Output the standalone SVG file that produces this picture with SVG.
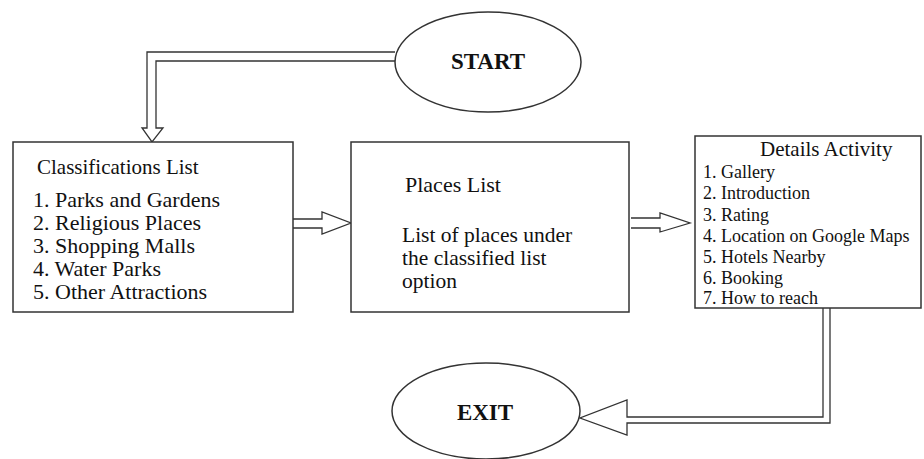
<svg xmlns="http://www.w3.org/2000/svg" width="924" height="459" viewBox="0 0 924 459">
<defs>
<style>
.shape{fill:#fff;stroke:#333;stroke-width:1.5}
.conn{fill:#fff;stroke:#333;stroke-width:1.3;stroke-linejoin:miter}
.txt{fill:#111}
</style>
</defs>
<rect width="924" height="459" fill="#fff"/>
<g id="connectors">
<path class="conn" d="M395,52 H147 V128 H142 L152,142 L163,128 H156 V61 H395"/>
<path class="conn" d="M293,219 H322 V212 L351,223 L322,234 V228 H293"/>
<path class="conn" d="M631,218 H660 V213 L690,223 L660,232 V228 H631"/>
<path class="conn" d="M823,308 V417 H627 V400 L580,418 L627,435 V423 H830 V308"/>
</g>
<g id="start">
<ellipse class="shape" cx="488" cy="62" rx="93" ry="50"/>
<text class="txt" x="488" y="69" font-family="Liberation Serif, serif" font-size="23" font-weight="bold" text-anchor="middle">START</text>
</g>
<g id="classifications">
<rect class="shape" x="13" y="142" width="280" height="170"/>
<g class="txt" font-family="Liberation Serif, serif">
<text x="37" y="174" font-size="21">Classifications List</text>
<text x="33" y="207" font-size="22">1. Parks and Gardens</text>
<text x="33" y="230" font-size="22">2. Religious Places</text>
<text x="33" y="253" font-size="22">3. Shopping Malls</text>
<text x="33" y="276" font-size="22">4. Water Parks</text>
<text x="33" y="299" font-size="22">5. Other Attractions</text>
</g>
</g>
<g id="places">
<rect class="shape" x="351" y="142" width="278" height="170"/>
<g class="txt" font-family="Liberation Serif, serif">
<text x="405" y="192" font-size="22">Places List</text>
<text x="402" y="242" font-size="21.5">List of places under</text>
<text x="402" y="265" font-size="21.5">the classified list</text>
<text x="402" y="288" font-size="21.5">option</text>
</g>
</g>
<g id="details">
<rect class="shape" x="695" y="136" width="226" height="172"/>
<g class="txt" font-family="Liberation Serif, serif">
<text x="760" y="156" font-size="21">Details Activity</text>
<text x="703" y="178" font-size="18">1. Gallery</text>
<text x="703" y="199" font-size="18">2. Introduction</text>
<text x="703" y="221" font-size="18">3. Rating</text>
<text x="703" y="242" font-size="18">4. Location on Google Maps</text>
<text x="703" y="263" font-size="18">5. Hotels Nearby</text>
<text x="703" y="284" font-size="18">6. Booking</text>
<text x="703" y="304" font-size="18">7. How to reach</text>
</g>
</g>
<g id="exit">
<ellipse class="shape" cx="486" cy="411" rx="94" ry="48"/>
<text class="txt" x="485" y="420" font-family="Liberation Serif, serif" font-size="23" font-weight="bold" text-anchor="middle">EXIT</text>
</g>
</svg>
